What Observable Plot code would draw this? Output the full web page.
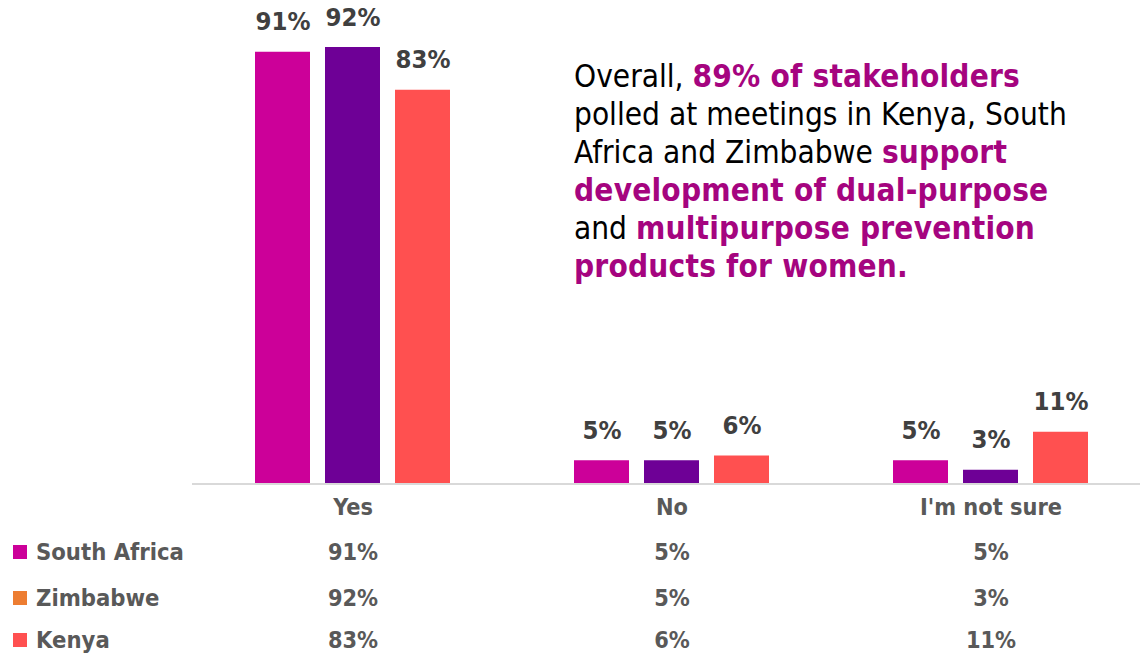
<!DOCTYPE html>
<html><head><meta charset="utf-8">
<script src="https://cdn.jsdelivr.net/npm/d3@7"></script>
<script src="https://cdn.jsdelivr.net/npm/@observablehq/plot@0.6"></script>
<style>
body{margin:0;background:#fff;}
#wrap{position:relative;width:1140px;height:654px;overflow:hidden;font-family:"DejaVu Sans Condensed","DejaVu Sans",sans-serif;}
#note{position:absolute;left:574px;top:57px;font-size:31.3px;line-height:38px;color:#000;white-space:nowrap;}
#note b{color:#A5047F;letter-spacing:0.2px;}
.leg{position:absolute;left:13px;height:30px;line-height:30px;font-weight:bold;font-size:23.6px;color:#595959;white-space:nowrap;}
.leg span{display:inline-block;width:14px;height:14px;margin-right:9px;vertical-align:middle;position:relative;top:-2px;}
</style>
</head><body>
<div id="wrap"></div>
<script>
const categories = ["Yes", "No", "I'm not sure"];
const countries = ["South Africa", "Zimbabwe", "Kenya"];
const southAfrica = [91, 5, 5];
const zimbabwe = [92, 5, 3];
const kenya = [83, 6, 11];
const barColors = ["#CC0099", "#6E0096", "#FF5050"];
const legendColors = ["#CC0099", "#ED7D31", "#FF5050"];

const series = [southAfrica, zimbabwe, kenya];
const data = countries.flatMap((c, i) => categories.map((cat, j) => ({category: cat, country: c, value: series[i][j]})));
const font = '"DejaVu Sans Condensed","DejaVu Sans",sans-serif';
const rowDy = [68, 114, 156];

const chart = Plot.plot({
  width: 1140, height: 654,
  marginTop: 9, marginBottom: 170, marginLeft: 192, marginRight: 0,
  style: {fontFamily: font, background: "transparent", overflow: "visible"},
  fx: {domain: categories, paddingInner: 0.382, paddingOuter: 0.1746, align: 0.55, axis: null, label: null},
  x: {domain: countries, paddingInner: 0.21, paddingOuter: 0, axis: null, label: null},
  y: {domain: [0, 100], axis: null, label: null},
  color: {domain: countries, range: barColors},
  marks: [
    Plot.barY(data, {fx: "category", x: "country", y: "value", fill: "country"}),
    Plot.text(data, {fx: "category", x: "country", y: "value", text: d => d.value + "%", dy: -30, lineAnchor: "middle", fontSize: 25.5, fontWeight: "bold", fill: "#404040"}),
    Plot.text(categories, {fx: d => d, frameAnchor: "bottom", dy: 23, lineAnchor: "middle", text: d => d, fontSize: 23.3, fontWeight: "bold", fill: "#595959"}),
    ...countries.map((c, i) => Plot.text(data.filter(d => d.country === c), {fx: "category", frameAnchor: "bottom", dy: rowDy[i], lineAnchor: "middle", text: d => d.value + "%", fontSize: 23.3, fontWeight: "bold", fill: "#595959"}))
  ]
});
const wrap = document.getElementById("wrap");
wrap.appendChild(chart);

// baseline across the whole plot frame, placed with the chart's y scale
const y0 = chart.scale("y").apply(0);
d3.select(chart).append("line")
  .attr("x1", 192).attr("x2", 1140)
  .attr("y1", y0).attr("y2", y0)
  .attr("stroke", "#D9D9D9").attr("stroke-width", 2);

const note = document.createElement("div");
note.id = "note";
note.innerHTML = 'Overall, <b>89% of stakeholders</b><br>polled at meetings in Kenya, South<br>Africa and Zimbabwe <b>support</b><br><b>development of dual-purpose</b><br>and <b>multipurpose prevention</b><br><b>products for women.</b>';
wrap.appendChild(note);

const legTops = [552, 598, 640];
countries.forEach((c, i) => {
  const d = document.createElement("div");
  d.className = "leg";
  d.style.top = (legTops[i] - 15) + "px";
  d.innerHTML = `<span style="background:${legendColors[i]}"></span>${c}`;
  wrap.appendChild(d);
});
</script>
</body></html>
